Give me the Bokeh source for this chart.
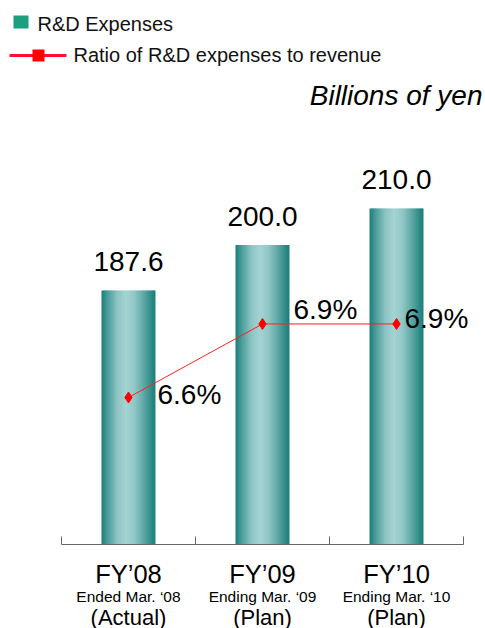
from bokeh.plotting import figure
from bokeh.models import Range1d, LinearAxis, FixedTicker, ColumnDataSource
from bokeh.transform import dodge
from bokeh.core.properties import value
from bokeh.embed import file_html
from bokeh.resources import INLINE

# ---------------- data ----------------
categories = ["FY\u201908", "FY\u201909", "FY\u201910"]
periods = ["Ended Mar. \u201808", "Ending Mar. \u201809", "Ending Mar. \u201810"]
statuses = ["(Actual)", "(Plan)", "(Plan)"]
rd_expenses = [187.6, 200.0, 210.0]          # billions of yen
rd_ratio = [6.6, 6.9, 6.9]                   # % of revenue

# ---------------- styles ----------------
FONT_NAME = "Liberation Sans"
FONT = value(FONT_NAME)
label_dx = [29, 31, 8]      # pixel offsets of the ratio labels
label_dy = [-3, -14, -5]

idx = list(range(len(categories)))
src = ColumnDataSource(dict(
    x=idx,
    rd=rd_expenses,
    ratio=rd_ratio,
    rd_txt=[f"{v:.1f}" for v in rd_expenses],
    ratio_txt=[f"{r:.1f}%" for r in rd_ratio],
    dx=label_dx,
    dy=label_dy,
))

p = figure(frame_width=485, frame_height=544,
           x_range=Range1d(-0.955, 2.664), y_range=Range1d(118.22, 266.8),
           x_axis_location=None, y_axis_location=None,
           toolbar_location=None, output_backend="svg",
           min_border_left=0, min_border_right=0, min_border_top=0, min_border_bottom=0)
p.outline_line_color = None
p.xgrid.visible = False
p.ygrid.visible = False
p.background_fill_color = "white"
p.border_fill_color = "white"

p.extra_y_ranges = {"ratio": Range1d(6.0, 8.22), "py": Range1d(544, 0)}
p.extra_x_ranges = {"px": Range1d(0, 485)}

# ---------------- gradient bars (cylinder look) ----------------
stops = [(0.0, (0x1a, 0x7f, 0x7b)), (0.12, (0x4c, 0x9e, 0x9b)), (0.30, (0x8f, 0xc6, 0xc5)),
         (0.45, (0xa3, 0xd3, 0xd2)), (0.60, (0x93, 0xc9, 0xc8)), (0.78, (0x5f, 0xa8, 0xa6)),
         (0.92, (0x2f, 0x8c, 0x88)), (1.0, (0x1b, 0x7d, 0x79))]


def grad(t):
    for (t0, c0), (t1, c1) in zip(stops[:-1], stops[1:]):
        if t0 <= t <= t1:
            f = (t - t0) / (t1 - t0)
            return "#%02x%02x%02x" % tuple(int(round(a + (b - a) * f)) for a, b in zip(c0, c1))
    return "#%02x%02x%02x" % stops[-1][1]


bar_w = 0.403
N = 30
step = bar_w / N
for k in range(N):
    left = -bar_w / 2 + k * step
    right = min(left + step * 1.6, bar_w / 2)
    p.vbar(x=dodge("x", (left + right) / 2), top="rd", bottom=0, width=right - left,
           source=src, fill_color=grad((k + 0.5) / N), line_color=None)

# value labels
p.text(x="x", y="rd", text="rd_txt", source=src, text_align="center",
       text_baseline="alphabetic", y_offset=-29, text_font=FONT,
       text_font_size="28px", text_color="black")

# ---------------- ratio line ----------------
p.line(x="x", y="ratio", source=src, y_range_name="ratio",
       line_color="#ff2020", line_width=1)
p.scatter(x="x", y="ratio", source=src, y_range_name="ratio", marker="diamond",
          size=11, fill_color="#ff0000", line_color="#ff0000")
p.text(x="x", y="ratio", text="ratio_txt", source=src, y_range_name="ratio",
       x_offset="dx", y_offset="dy", text_align="left", text_baseline="alphabetic",
       text_font=FONT, text_font_size="28px", text_color="black")

# ---------------- legend & unit ----------------
p.quad(left=[13], right=[28], top=[15], bottom=[28], x_range_name="px", y_range_name="py",
       fill_color="#1aa07e", line_color=None)
p.text(x=[37], y=[23], text=["R&D Expenses"], x_range_name="px", y_range_name="py",
       text_baseline="alphabetic", text_font=FONT, text_font_size="20px", text_color="#111111")
p.line(x=[9, 66], y=[55, 55], x_range_name="px", y_range_name="py",
       line_color="#ff1030", line_width=3)
p.scatter(x=[38], y=[55], x_range_name="px", y_range_name="py", marker="square",
          size=12, fill_color="#ff0000", line_color=None)
p.text(x=[73], y=[54], text=["Ratio of R&D expenses to revenue"], x_range_name="px",
       y_range_name="py", text_baseline="alphabetic", text_font=FONT,
       text_font_size="20px", text_color="#111111")
p.text(x=[482], y=[95], text=["Billions of yen"], x_range_name="px", y_range_name="py",
       text_align="right", text_baseline="alphabetic", text_font=FONT,
       text_font_style="italic", text_font_size="28px", text_color="black")

# ---------------- category axes ----------------
bounds_ticks = [i - 0.5 for i in idx] + [idx[-1] + 0.5]


def cat_axis(labels, size, standoff, line=False):
    ax = LinearAxis(ticker=FixedTicker(ticks=idx, minor_ticks=bounds_ticks if line else []),
                    bounds=(bounds_ticks[0], bounds_ticks[-1]),
                    major_label_overrides={i: t for i, t in enumerate(labels)},
                    major_label_text_font=FONT_NAME, major_label_text_font_size=size,
                    major_label_text_color="black", major_label_standoff=standoff,
                    major_tick_in=0, major_tick_out=0, major_tick_line_color=None,
                    minor_tick_in=8 if line else 0, minor_tick_out=0,
                    minor_tick_line_color="#666666" if line else None,
                    axis_line_color="#666666" if line else None)
    p.add_layout(ax, "below")


cat_axis(categories, "25.5px", 15, line=True)
cat_axis(periods, "15.5px", -3)
cat_axis(statuses, "22px", -3)

open("out.html", "w").write(file_html(p, INLINE))
